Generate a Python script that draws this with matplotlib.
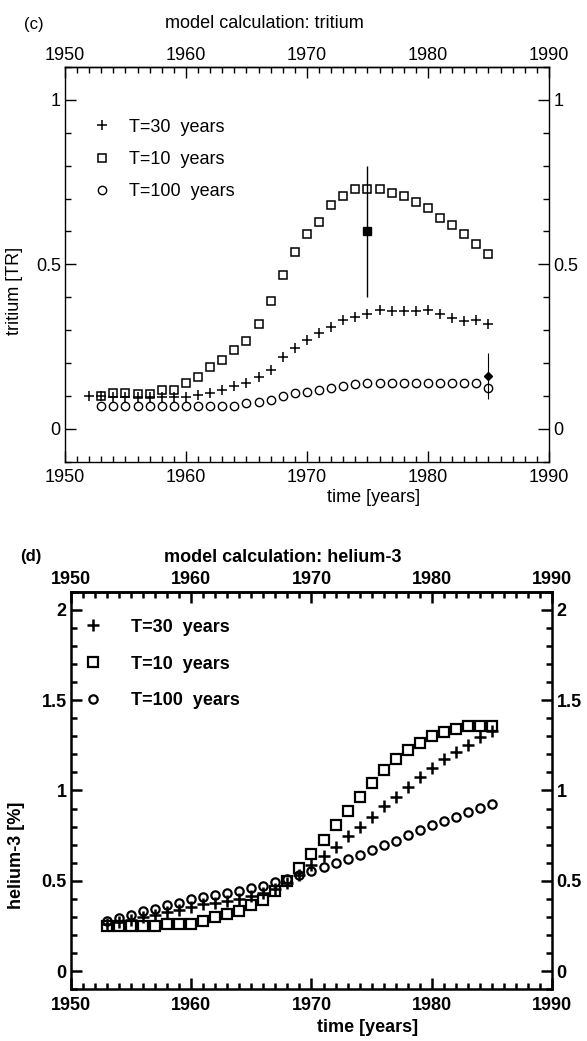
import matplotlib
matplotlib.use('Agg')
import matplotlib.pyplot as plt
from matplotlib.ticker import MultipleLocator

# ---- (c) model calculation: tritium [TR] ----
tr_years_30 = list(range(1952, 1986))
tr_t30 = [0.100, 0.100, 0.097, 0.096, 0.096, 0.096, 0.096, 0.096, 0.097, 0.102,
          0.108, 0.118, 0.129, 0.138, 0.158, 0.179, 0.219, 0.245, 0.270, 0.291,
          0.310, 0.330, 0.340, 0.348, 0.361, 0.358, 0.358, 0.358, 0.361, 0.348,
          0.338, 0.328, 0.330, 0.320]
tr_years = list(range(1953, 1986))
tr_t10 = [0.099, 0.108, 0.108, 0.106, 0.106, 0.118, 0.118, 0.139, 0.158, 0.189,
          0.209, 0.239, 0.268, 0.318, 0.389, 0.468, 0.538, 0.591, 0.629, 0.679,
          0.709, 0.730, 0.730, 0.729, 0.717, 0.707, 0.689, 0.671, 0.641, 0.621,
          0.591, 0.561, 0.530]
tr_t100 = [0.069, 0.069, 0.069, 0.069, 0.069, 0.069, 0.069, 0.069, 0.069, 0.069,
           0.069, 0.069, 0.078, 0.080, 0.088, 0.099, 0.109, 0.113, 0.118, 0.125,
           0.130, 0.135, 0.138, 0.140, 0.140, 0.140, 0.140, 0.140, 0.140, 0.140,
           0.140, 0.138, 0.125]
tr_obs_years = [1975, 1985]
tr_obs = [0.60, 0.16]
tr_obs_err = [0.20, 0.07]

# ---- (d) model calculation: helium-3 [%] ----
he_years = list(range(1953, 1986))
he_t30 = [0.260, 0.270, 0.285, 0.300, 0.310, 0.325, 0.340, 0.355, 0.370, 0.380,
          0.390, 0.400, 0.415, 0.430, 0.455, 0.490, 0.530, 0.585, 0.635, 0.686,
          0.749, 0.800, 0.855, 0.914, 0.962, 1.021, 1.073, 1.123, 1.174, 1.214,
          1.251, 1.294, 1.330]
he_t10 = [0.252, 0.252, 0.252, 0.248, 0.252, 0.263, 0.263, 0.263, 0.276, 0.300,
          0.319, 0.335, 0.364, 0.392, 0.441, 0.497, 0.571, 0.648, 0.727, 0.810,
          0.888, 0.962, 1.043, 1.113, 1.172, 1.224, 1.264, 1.302, 1.325, 1.343,
          1.356, 1.356, 1.356]
he_t100 = [0.276, 0.295, 0.313, 0.331, 0.344, 0.364, 0.377, 0.399, 0.411, 0.423,
           0.433, 0.441, 0.460, 0.473, 0.491, 0.510, 0.530, 0.555, 0.578, 0.598,
           0.620, 0.644, 0.672, 0.699, 0.723, 0.754, 0.782, 0.810, 0.833, 0.855,
           0.880, 0.902, 0.926]

labels = ['T=30  years', 'T=10  years', 'T=100  years']
year_ticks = [1950, 1960, 1970, 1980, 1990]
year_labels = [str(y) for y in year_ticks]

plt.rcParams['font.family'] = ['Liberation Sans', 'DejaVu Sans']

fig = plt.figure(figsize=(5.87, 10.41), dpi=100)
ax1 = fig.add_axes([0.1107, 0.5565, 0.8245, 0.3791])
ax2 = fig.add_axes([0.1204, 0.0497, 0.8204, 0.3819])


def style_axes(ax, weight, lw, ylim, yticks, ylabels):
    ax.set_xlim(1950, 1990)
    ax.set_ylim(*ylim)
    ax.set_xticks(year_ticks, labels=year_labels, fontweight=weight)
    ax.set_yticks(yticks, labels=ylabels, fontweight=weight)
    ax.xaxis.set_minor_locator(MultipleLocator(1))
    ax.yaxis.set_minor_locator(MultipleLocator(0.1))
    ax.tick_params(which='both', direction='in', top=True, right=True,
                   labeltop=False, labelright=True, width=lw, labelsize=13)
    ax.tick_params(which='major', length=8)
    ax.tick_params(which='minor', length=4)
    ax.tick_params(axis='x', pad=5.5)
    ax.tick_params(axis='y', pad=3)
    for sp in ax.spines.values():
        sp.set_linewidth(lw)
    # year labels along the top edge sit closer to the frame
    sec = ax.secondary_xaxis('top')
    sec.set_xticks(year_ticks, labels=year_labels, fontweight=weight)
    sec.tick_params(length=0, pad=2.5, labelsize=13)
    sec.spines['top'].set_linewidth(lw)


# ---- panel (c) ----
ax = ax1
style_axes(ax, 'normal', 1.0, (-0.1, 1.1), [0, 0.5, 1], ['0', '0.5', '1'])
ax.plot(tr_years_30, tr_t30, ls='none', marker='+', ms=7, mew=1.1, color='k', label=labels[0])
ax.plot(tr_years, tr_t10, ls='none', marker='s', ms=6, mew=1.1, mfc='none', color='k', label=labels[1])
ax.plot(tr_years, tr_t100, ls='none', marker='o', ms=6, mew=1.0, mfc='none', color='k', label=labels[2])
ax.errorbar(tr_obs_years[:1], tr_obs[:1], yerr=tr_obs_err[:1], fmt='s', ms=5.5,
            color='k', elinewidth=1.0, capsize=0)
ax.errorbar(tr_obs_years[1:], tr_obs[1:], yerr=tr_obs_err[1:], fmt='D', ms=4,
            color='k', elinewidth=0.8, capsize=0)
ax.legend(loc='upper left', bbox_to_anchor=(0.058, 0.869), frameon=False,
          fontsize=13, handlelength=1.0, handletextpad=1.0, labelspacing=0.85,
          borderpad=0, borderaxespad=0)
ax.set_ylabel('tritium [TR]', fontsize=13)
ax.yaxis.set_label_coords(-0.087, 0.433)
ax.set_xlabel('time [years]', fontsize=13)
ax.xaxis.set_label_coords(0.638, -0.07)
fig.text(24 / 587, 1 - 24 / 1041, '(c)', fontsize=12, va='center', ha='left')
fig.text(264 / 587, 1 - 24 / 1041, 'model calculation: tritium', fontsize=13,
         va='center', ha='center')

# ---- panel (d) ----
ax = ax2
style_axes(ax, 'bold', 1.8, (-0.1, 2.1), [0, 0.5, 1, 1.5, 2],
           ['0', '0.5', '1', '1.5', '2'])
ax.plot(he_years, he_t30, ls='none', marker='+', ms=8, mew=1.8, color='k', label=labels[0])
ax.plot(he_years, he_t10, ls='none', marker='s', ms=6.5, mew=1.6, mfc='none', color='k', label=labels[1])
ax.plot(he_years, he_t100, ls='none', marker='o', ms=6, mew=1.6, mfc='none', color='k', label=labels[2])
leg = ax.legend(loc='upper left', bbox_to_anchor=(0.028, 0.932), frameon=False,
                fontsize=13, handlelength=1.0, handletextpad=1.6, labelspacing=1.1,
                borderpad=0, borderaxespad=0)
for t in leg.get_texts():
    t.set_fontweight('bold')
ax.set_ylabel('helium-3 [%]', fontsize=13, fontweight='bold')
ax.yaxis.set_label_coords(-0.095, 0.336)
ax.set_xlabel('time [years]', fontsize=13, fontweight='bold')
ax.xaxis.set_label_coords(0.617, -0.075)
fig.text(20 / 587, 1 - 557 / 1041, '(d)', fontsize=12, va='center', ha='left',
         fontweight='bold')
fig.text(283 / 587, 1 - 557 / 1041, 'model calculation: helium-3', fontsize=13,
         va='center', ha='center', fontweight='bold')

fig.savefig('out.png', dpi=100)
